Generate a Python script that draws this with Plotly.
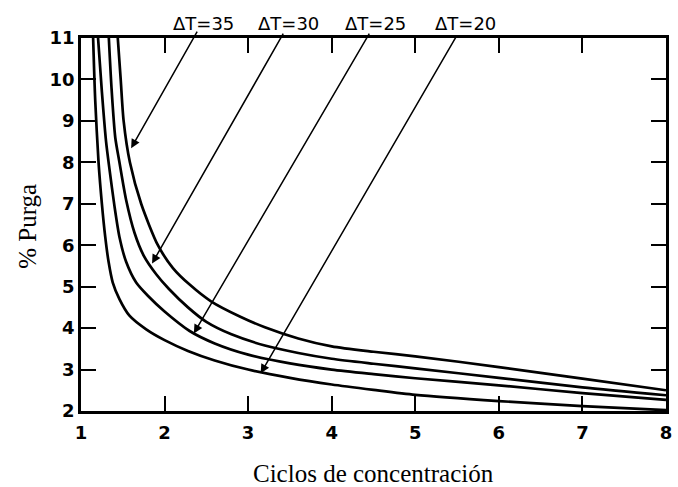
import plotly.graph_objects as go

# ---- data ----
x35 = [1.44, 1.475, 1.51, 1.585, 1.72, 1.92, 2.1, 2.3, 2.56, 2.9, 3.2, 3.6, 4.0, 4.5, 5.0, 6.0, 7.0, 8.0]
y35 = [11, 10, 9, 8, 7.0, 6.0, 5.45, 5.05, 4.64, 4.28, 4.02, 3.75, 3.56, 3.43, 3.32, 3.06, 2.78, 2.5]

x30 = [1.333, 1.365, 1.41, 1.46, 1.54, 1.64, 1.75, 1.9, 2.05, 2.28, 2.5, 2.8, 3.2, 3.6, 4.0, 4.5, 5.0, 6.0, 7.0, 8.0]
y30 = [11, 9.8, 8.6, 8.0, 7.09, 6.3, 5.75, 5.3, 4.95, 4.5, 4.15, 3.85, 3.58, 3.4, 3.26, 3.14, 3.03, 2.8, 2.57, 2.38]

x25 = [1.204, 1.25, 1.30, 1.34, 1.40, 1.46, 1.54, 1.66, 1.80, 2.0, 2.3, 2.6, 3.0, 3.5, 4.0, 4.5, 5.0, 6.0, 7.0, 8.0]
y25 = [11, 9.7, 8.5, 7.85, 6.95, 6.2, 5.6, 5.1, 4.78, 4.4, 3.93, 3.63, 3.36, 3.15, 3.0, 2.89, 2.79, 2.62, 2.43, 2.27]

x20 = [1.145, 1.17, 1.21, 1.25, 1.29, 1.33, 1.38, 1.46, 1.58, 1.78, 2.0, 2.28, 2.6, 3.0, 3.5, 4.0, 4.5, 5.0, 6.0, 7.0, 8.0]
y20 = [11, 9.5, 8, 7, 6.2, 5.6, 5.1, 4.7, 4.3, 3.97, 3.71, 3.45, 3.22, 3.0, 2.8, 2.64, 2.51, 2.39, 2.24, 2.12, 2.02]

labels = ["\u0394T=35", "\u0394T=30", "\u0394T=25", "\u0394T=20"]
label_x = [2.46, 3.48, 4.52, 5.60]
tail_x = [2.40, 3.43, 4.46, 5.50]
tail_y = [11.19, 11.14, 11.14, 11.07]
tip_x = [1.60, 1.85, 2.35, 3.15]
tip_y = [8.34, 5.56, 3.87, 2.91]

x_ticks = [1, 2, 3, 4, 5, 6, 7, 8]
y_ticks = [2, 3, 4, 5, 6, 7, 8, 9, 10, 11]

fig = go.Figure()
for xs, ys in [(x35, y35), (x30, y30), (x25, y25), (x20, y20)]:
    fig.add_trace(go.Scatter(x=xs, y=ys, mode="lines",
                             line=dict(color="black", width=2.7, shape="spline", smoothing=0.7),
                             showlegend=False, hoverinfo="skip"))

for lab, lx, tx, ty, hx, hy in zip(labels, label_x, tail_x, tail_y, tip_x, tip_y):
    fig.add_annotation(x=hx, y=hy, ax=tx, ay=ty, xref="x", yref="y", axref="x", ayref="y",
                       text="", showarrow=True, arrowhead=2, arrowsize=1.2, arrowwidth=1.5,
                       arrowcolor="black")
    fig.add_annotation(x=lx, y=1.039, xref="x", yref="paper", text=lab, showarrow=False,
                       font=dict(family="DejaVu Sans", size=18, color="black"),
                       xanchor="center", yanchor="middle")

fig.add_annotation(x=0.5, y=-0.168, xref="paper", yref="paper", text="Ciclos de concentración",
                   showarrow=False, font=dict(family="Liberation Serif", size=25, color="black"),
                   xanchor="center", yanchor="middle")
fig.add_annotation(x=-0.091, y=0.496, xref="paper", yref="paper", text="% Purga", textangle=-90,
                   showarrow=False, font=dict(family="Liberation Serif", size=25, color="black"),
                   xanchor="center", yanchor="middle")

axis_common = dict(showline=True, linecolor="black", linewidth=2.5, mirror="ticks",
                   ticks="inside", ticklen=15, tickwidth=2, tickcolor="black",
                   showgrid=False, zeroline=False, ticklabeloverflow="allow",
                   tickfont=dict(family="DejaVu Sans", size=18, color="black", weight="bold"))

fig.update_xaxes(range=[1, 8], tickvals=x_ticks, ticktext=[str(v) for v in x_ticks],
                 ticklabelstandoff=4, **axis_common)
fig.update_yaxes(range=[2, 11], tickvals=y_ticks, ticktext=[str(v) for v in y_ticks], **axis_common)

fig.update_layout(width=678, height=487, margin=dict(l=81, r=6, t=38, b=76),
                  plot_bgcolor="white", paper_bgcolor="white")

fig.write_html("out.html")
